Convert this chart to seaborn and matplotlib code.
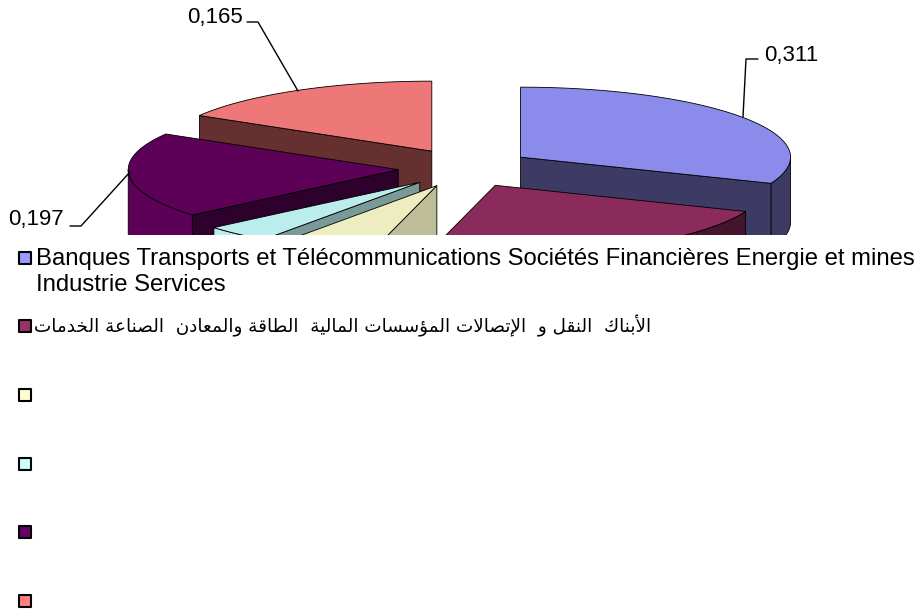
import unicodedata
import numpy as np
import pandas as pd
import matplotlib
matplotlib.use('Agg')
import matplotlib.pyplot as plt
from matplotlib.patches import Polygon
import seaborn as sns

# Share of each slice, clockwise from 12 o'clock
values = [0.311, 0.229, 0.058, 0.040, 0.197, 0.165]
labelled = [0, 4, 5]

legend_fr = 'Banques Transports et Télécommunications Sociétés Financières Energie et mines\nIndustrie Services'
legend_ar = 'الأبناك  النقل و  الإتصالات المؤسسات المالية  الطاقة والمعادن  الصناعة الخدمات'

legend_colors = ['#9999FF', '#993366', '#FFFFCC', '#CCFFFF', '#660066', '#FF8080']
top_colors = ['#8B8BEB', '#8B2B5B', '#EDEDC0', '#BBEDEC', '#5C0058', '#EE7777']
cut_colors = ['#3D3B63', '#45142D', '#BDBD99', '#7A9A9A', '#2E002C', '#663030']
wall_colors = ['#3D3B63', '#45142D', '#EDEDC0', '#BBEDEC', '#5C0058', '#663030']
draw_order = [5, 0, 4, 3, 2, 1]

sns.set_theme(style='white', font='Liberation Sans')
plt.rcParams['font.family'] = ['Liberation Sans', 'DejaVu Sans']


# matplotlib does not shape Arabic, so pick the presentation forms by hand
forms = {}
for c in range(0xFE70, 0xFEFD):
    d = unicodedata.decomposition(chr(c)).split()
    if len(d) >= 2 and d[0].startswith('<'):
        forms[(d[0], ''.join(chr(int(h, 16)) for h in d[1:]))] = chr(c)


def shape_arabic(text):
    tokens = []
    i = 0
    while i < len(text):
        if text[i] == 'ل' and i + 1 < len(text) and text[i + 1] in 'اأإآ':
            tokens.append(text[i:i + 2])
            i += 2
        else:
            tokens.append(text[i])
            i += 1
    out = []
    for i, t in enumerate(tokens):
        if ('<isolated>', t) not in forms and ('<final>', t) not in forms:
            out.append(t)
            continue
        prev_joins = i > 0 and ('<initial>', tokens[i - 1]) in forms
        next_joins = (i + 1 < len(tokens) and ('<initial>', t) in forms
                      and ('<final>', tokens[i + 1]) in forms)
        if prev_joins and next_joins:
            key = '<medial>'
        elif prev_joins:
            key = '<final>'
        elif next_joins:
            key = '<initial>'
        else:
            key = '<isolated>'
        out.append(forms[(key, t)])
    return ''.join(reversed(out))


fig = plt.figure(figsize=(9.22, 6.14), dpi=100)

# Legend layer, in pixel units
ax_leg = fig.add_axes([0, 0, 1, 1])
rows = pd.DataFrame({
    'x': [25] * 6,
    'y': [258, 326, 395, 464, 532, 601],
    'serie': list(range(6)),
})
sns.scatterplot(data=rows, x='x', y='y', hue='serie', palette=legend_colors, marker='s',
                s=74, edgecolor='black', linewidth=1.5, legend=False, ax=ax_leg)
ax_leg.set_xlim(0, 922)
ax_leg.set_ylim(614, 0)
ax_leg.axis('off')
ax_leg.text(36, 248, legend_fr, fontsize=17.2, color='black', va='top', ha='left', linespacing=1.26)
ax_leg.text(651, 326, shape_arabic(legend_ar), fontsize=13.2, color='black', va='center', ha='right',
            family='DejaVu Sans')

# Pie layer, cut off at the bottom like the reference
ax = fig.add_axes([0, 1 - 235 / 614, 1, 235 / 614])
ax.patch.set_alpha(0)
ax.set_xlim(0, 922)
ax.set_ylim(235, 0)
ax.axis('off')

cx, cy = 465, 168
rx, ry = 270, 70
explode_x, explode_y = 67, 19.4
depth = 65

edges = np.cumsum([0] + values) * 360
for i in draw_order:
    a0, a1 = edges[i], edges[i + 1]
    mid = np.radians((a0 + a1) / 2)
    ox = cx + explode_x * np.sin(mid)
    oy = cy - explode_y * np.cos(mid)

    def rim(a, drop=0):
        a = np.radians(a)
        return ox + rx * np.sin(a), oy - ry * np.cos(a) + drop

    # outer wall, only the part facing the viewer
    w0, w1 = max(a0, 90), min(a1, 270)
    if w1 > w0:
        arc = np.linspace(w0, w1, 80)
        pts = [rim(a) for a in arc] + [rim(a, depth) for a in arc[::-1]]
        ax.add_patch(Polygon(pts, fc=wall_colors[i], ec='black', lw=0.6))

    # cut faces
    for a, visible in [(a0, np.sin(np.radians(a0)) < -1e-6), (a1, np.sin(np.radians(a1)) > 1e-6)]:
        if visible:
            pts = [(ox, oy), rim(a), rim(a, depth), (ox, oy + depth)]
            ax.add_patch(Polygon(pts, fc=cut_colors[i], ec='black', lw=0.6))

    # top surface
    arc = np.linspace(a0, a1, 120)
    pts = [(ox, oy)] + [rim(a) for a in arc]
    ax.add_patch(Polygon(pts, fc=top_colors[i], ec='black', lw=0.6))

# Value labels with their leader lines
label_text = {i: f'{values[i]:.3f}'.replace('.', ',') for i in labelled}
ax.plot([247, 258, 298], [22, 22, 91], color='black', lw=1)
ax.text(243, 17, label_text[5], fontsize=16, color='black', ha='right', va='center')
ax.plot([70, 81, 130], [226, 226, 172], color='black', lw=1)
ax.text(64, 220, label_text[4], fontsize=16, color='black', ha='right', va='center')
ax.plot([758, 746, 743], [59, 59, 117], color='black', lw=1)
ax.text(764, 55, label_text[0], fontsize=16, color='black', ha='left', va='center')

plt.savefig('out.png', dpi=100)
plt.close()
